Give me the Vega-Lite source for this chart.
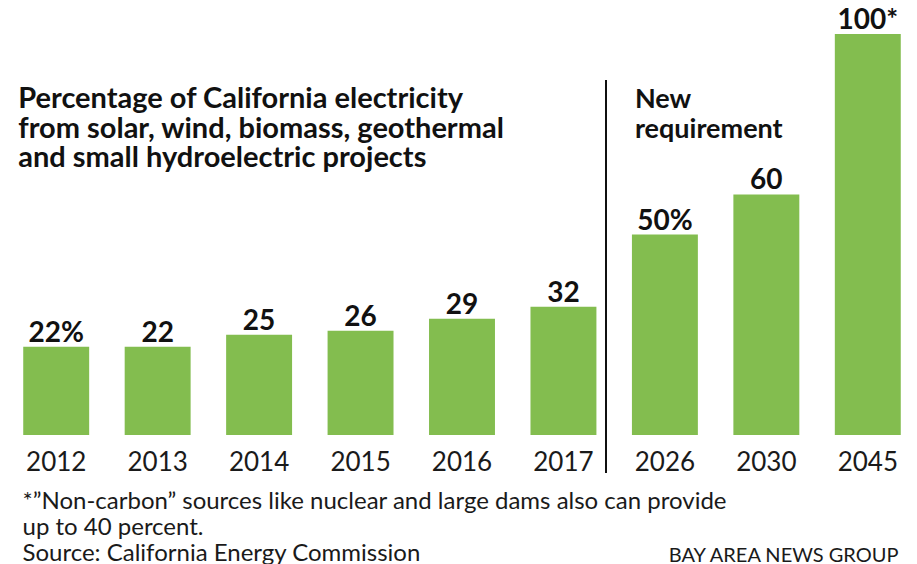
{
  "$schema": "https://vega.github.io/schema/vega-lite/v6.json",
  "autosize": "none",
  "width": 910,
  "height": 401,
  "padding": {"left": 7, "top": 34, "right": 0, "bottom": 129},
  "background": "white",
  "config": {"view": {"stroke": null}, "font": "Lato"},
  "data": {
    "values": [
      {"year": "2012", "value": 22, "label": "22%"},
      {"year": "2013", "value": 22, "label": "22"},
      {"year": "2014", "value": 25, "label": "25"},
      {"year": "2015", "value": 26, "label": "26"},
      {"year": "2016", "value": 29, "label": "29"},
      {"year": "2017", "value": 32, "label": "32"},
      {"year": "2026", "value": 50, "label": "50%"},
      {"year": "2030", "value": 60, "label": "60"},
      {"year": "2045", "value": 100, "label": "100*"}
    ]
  },
  "encoding": {
    "x": {
      "field": "year",
      "type": "nominal",
      "sort": null,
      "scale": {"paddingInner": 0.35, "paddingOuter": 0.16},
      "axis": {
        "title": ["*\u201dNon-carbon\u201d sources like nuclear and large dams also can provide", "up to 40 percent.", "Source: California Energy Commission"],
        "titleX": 15,
        "titleY": 73,
        "titleAlign": "left",
        "titleAnchor": "start",
        "titleBaseline": "alphabetic",
        "titleFontSize": 24,
        "titleFontWeight": "normal",
        "titleLineHeight": 26,
        "titleColor": "#1a1a1a",
        "labelAngle": 0,
        "labelFontSize": 26,
        "labelColor": "#1a1a1a",
        "labelBaseline": "alphabetic",
        "labelPadding": 35,
        "ticks": false,
        "domain": false
      }
    },
    "y": {
      "field": "value",
      "type": "quantitative",
      "scale": {"domain": [0, 100]},
      "axis": {
        "title": "BAY AREA NEWS GROUP",
        "titleAngle": 0,
        "titleX": 891,
        "titleY": 527,
        "titleAlign": "right",
        "titleBaseline": "alphabetic",
        "titleFontSize": 20,
        "titleFontWeight": "normal",
        "titleColor": "#1a1a1a",
        "labels": false,
        "ticks": false,
        "domain": false,
        "grid": false
      }
    }
  },
  "layer": [
    {"mark": {"type": "bar", "color": "#83bd4f"}},
    {
      "mark": {"type": "text", "baseline": "alphabetic", "dy": -5, "fontSize": 28, "fontWeight": "bold", "color": "#111"},
      "encoding": {"text": {"field": "label"}}
    },
    {
      "mark": {"type": "rule", "color": "#111", "strokeWidth": 1.5},
      "encoding": {
        "x": {"datum": "2026", "bandPosition": -0.395},
        "y": {"datum": 88.5},
        "y2": {"datum": -9.5}
      }
    },
    {
      "data": {"values": [
        {"year": "2012", "pos": 81.5, "note": ["Percentage of California electricity", "from solar, wind, biomass, geothermal", "and small hydroelectric projects"]}
      ]},
      "mark": {"type": "text", "align": "left", "baseline": "alphabetic", "dx": -5, "fontSize": 29, "fontWeight": "bold", "lineHeight": 29.5, "color": "#111"},
      "encoding": {
        "x": {"field": "year", "type": "nominal", "bandPosition": 0},
        "y": {"field": "pos", "type": "quantitative"},
        "text": {"field": "note"}
      }
    },
    {
      "data": {"values": [
        {"year": "2026", "pos": 81.5, "note": ["New", "requirement"]}
      ]},
      "mark": {"type": "text", "align": "left", "baseline": "alphabetic", "dx": 3, "fontSize": 27, "fontWeight": "bold", "lineHeight": 29.5, "color": "#111"},
      "encoding": {
        "x": {"field": "year", "type": "nominal", "bandPosition": 0},
        "y": {"field": "pos", "type": "quantitative"},
        "text": {"field": "note"}
      }
    }
  ]
}
